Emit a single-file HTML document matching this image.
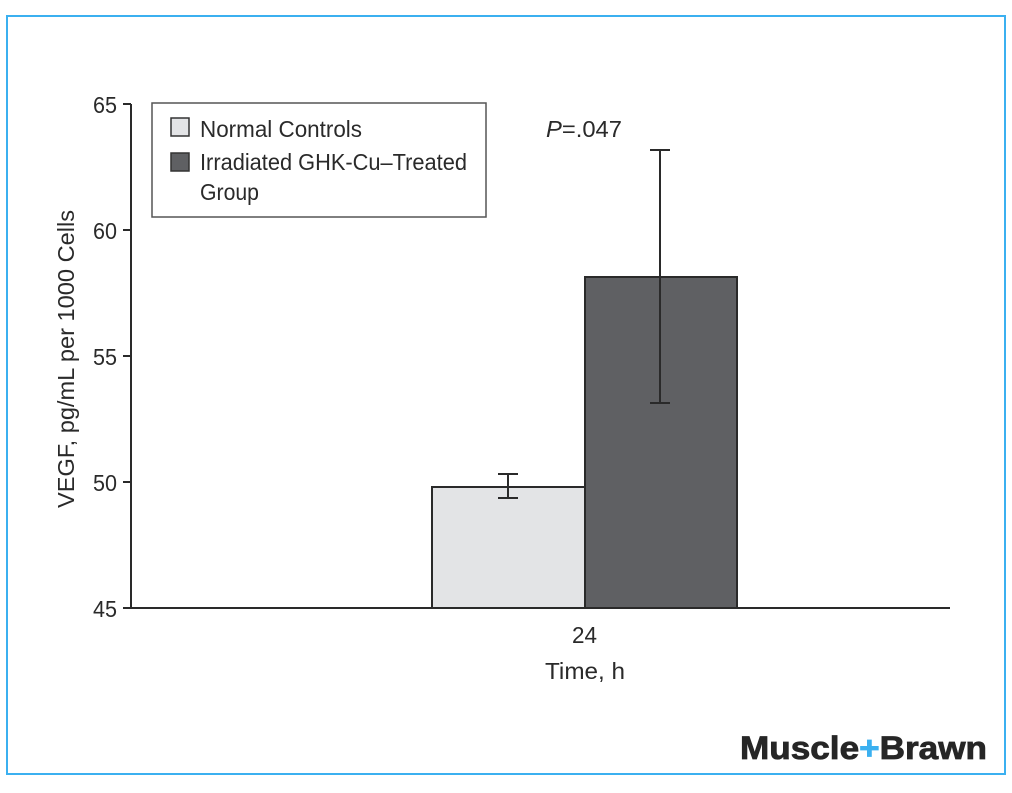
<!DOCTYPE html>
<html><head><meta charset="utf-8"><style>
html,body{margin:0;padding:0;background:#fff;}
body{width:1012px;height:788px;position:relative;overflow:hidden;}
svg text{font-family:"Liberation Sans",sans-serif;fill:#2a2a2a;}
</style></head><body>
<svg width="1012" height="788" xmlns="http://www.w3.org/2000/svg">
<rect x="7" y="16" width="998" height="758" fill="none" stroke="#3bb0f0" stroke-width="2"/>
<g stroke="#2a2a2a" stroke-width="2" fill="none">
<line x1="131" y1="104" x2="131" y2="609"/>
<line x1="130" y1="608" x2="950" y2="608"/>
<line x1="123" y1="104" x2="131" y2="104"/>
<line x1="123" y1="230" x2="131" y2="230"/>
<line x1="123" y1="356" x2="131" y2="356"/>
<line x1="123" y1="482" x2="131" y2="482"/>
<line x1="123" y1="608" x2="131" y2="608"/>
</g>
<g font-size="23">
<text x="93" y="113" textLength="24" lengthAdjust="spacingAndGlyphs">65</text>
<text x="93" y="239" textLength="24" lengthAdjust="spacingAndGlyphs">60</text>
<text x="93" y="365" textLength="24" lengthAdjust="spacingAndGlyphs">55</text>
<text x="93" y="491" textLength="24" lengthAdjust="spacingAndGlyphs">50</text>
<text x="93" y="617" textLength="24" lengthAdjust="spacingAndGlyphs">45</text>
</g>
<text transform="translate(74,508) rotate(-90)" font-size="23" textLength="298" lengthAdjust="spacingAndGlyphs">VEGF, pg/mL per 1000 Cells</text>
<rect x="432" y="487" width="153" height="121" fill="#e3e4e6" stroke="#2a2a2a" stroke-width="2"/>
<rect x="585" y="277" width="152" height="331" fill="#5f6063" stroke="#2a2a2a" stroke-width="2"/>
<g stroke="#2a2a2a" stroke-width="2">
<line x1="508" y1="474" x2="508" y2="498"/><line x1="498" y1="474" x2="518" y2="474"/><line x1="498" y1="498" x2="518" y2="498"/>
<line x1="660" y1="150" x2="660" y2="403"/><line x1="650" y1="150" x2="670" y2="150"/><line x1="650" y1="403" x2="670" y2="403"/>
</g>
<text x="546" y="137" font-size="23" textLength="76" lengthAdjust="spacingAndGlyphs"><tspan font-style="italic">P</tspan>=.047</text>
<text x="572" y="643" font-size="23" textLength="25" lengthAdjust="spacingAndGlyphs">24</text>
<text x="545" y="679" font-size="23" textLength="80" lengthAdjust="spacingAndGlyphs">Time, h</text>
<rect x="152" y="103" width="334" height="114" fill="#fff" stroke="#555" stroke-width="1.5"/>
<rect x="171" y="118" width="18" height="18" fill="#e3e4e6" stroke="#333" stroke-width="1.5"/>
<rect x="171" y="153" width="18" height="18" fill="#5f6063" stroke="#333" stroke-width="1.5"/>
<g font-size="23">
<text x="200" y="137" textLength="162" lengthAdjust="spacingAndGlyphs">Normal Controls</text>
<text x="200" y="170" textLength="267" lengthAdjust="spacingAndGlyphs">Irradiated GHK-Cu–Treated</text>
<text x="200" y="200" textLength="59" lengthAdjust="spacingAndGlyphs">Group</text>
</g>
<text x="740" y="759" font-weight="bold" font-size="32" textLength="247" lengthAdjust="spacingAndGlyphs" style="fill:#262626;stroke:#262626;stroke-width:0.8">Muscle<tspan style="fill:#3bb0f0;stroke:#3bb0f0">+</tspan>Brawn</text>
</svg>
</body></html>
